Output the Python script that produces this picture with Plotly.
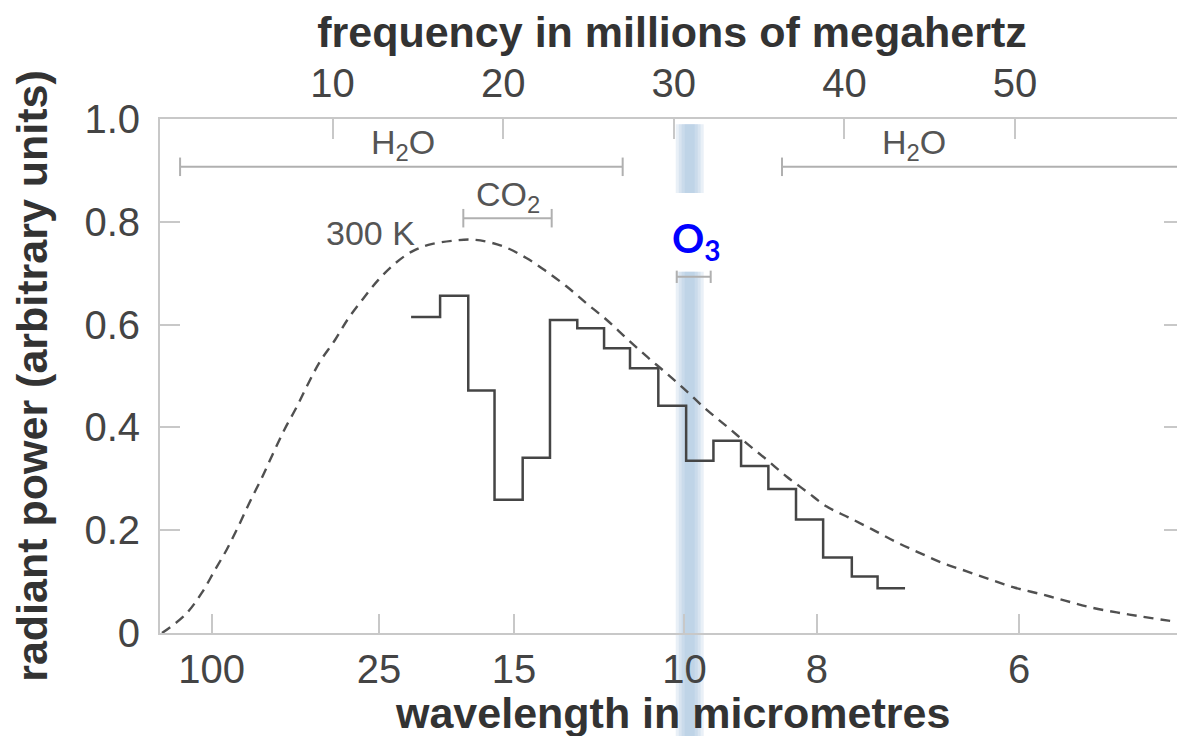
import plotly.graph_objects as go

# ---------------- data ----------------
freq_ticks = [10, 20, 30, 40, 50]                      # top axis, millions of MHz (THz)
wavelength_labels = ["100", "25", "15", "10", "8", "6"]  # bottom axis, micrometres
wavelength_tick_freq = [2.91, 12.72, 20.63, 30.62, 38.38, 50.23]
y_ticks = [0, 0.2, 0.4, 0.6, 0.8, 1.0]
y_tick_labels = ["0", "0.2", "0.4", "0.6", "0.8", "1.0"]

# 300 K blackbody curve (dashed)
curve_freq = [0.0, 1.35, 2.33, 3.11, 3.79, 4.47, 5.16, 5.84, 6.52, 7.21, 7.90,
              8.58, 9.26, 10.14, 10.92, 11.80, 12.68, 13.66, 14.64, 15.61, 16.98,
              18.35, 20.01, 21.38, 22.55, 23.72, 24.89, 26.07, 27.24, 28.41, 29.58,
              30.76, 31.93, 33.10, 34.27, 35.45, 36.62, 37.79, 38.96, 40.23, 41.60,
              42.97, 44.33, 45.76, 47.17, 48.63, 50.00, 51.47, 52.93, 54.40, 55.96,
              57.43, 58.99, 59.44]
curve_power = [0.0, 0.035, 0.078, 0.123, 0.162, 0.207, 0.256, 0.301, 0.350,
               0.398, 0.440, 0.486, 0.528, 0.570, 0.612, 0.651, 0.687, 0.719, 0.742,
               0.755, 0.763, 0.765, 0.752, 0.729, 0.703, 0.674, 0.641, 0.609, 0.573,
               0.538, 0.505, 0.470, 0.434, 0.402, 0.369, 0.337, 0.304, 0.275, 0.246,
               0.225, 0.202, 0.178, 0.157, 0.136, 0.120, 0.103, 0.088, 0.076, 0.063,
               0.050, 0.040, 0.032, 0.024, 0.022]

# measured spectrum (histogram steps)
step_edges = [14.60, 16.30, 17.95, 19.49, 21.14, 22.74, 24.34, 25.91, 27.43, 29.09,
              30.72, 32.32, 33.94, 35.54, 37.16, 38.75, 40.43, 41.94, 43.55]
step_power = [0.615, 0.656, 0.472, 0.259, 0.341, 0.609, 0.593, 0.554, 0.515, 0.442,
              0.335, 0.374, 0.325, 0.280, 0.221, 0.147, 0.110, 0.087]

# absorption bands
band_names = ["H<sub>2</sub>O", "CO<sub>2</sub>", "O3", "H<sub>2</sub>O"]
band_start = [1.06, 17.66, 30.17, 36.34]
band_end = [27.00, 22.84, 32.16, 62.0]
band_level = [0.907, 0.807, 0.693, 0.907]
band_label_freq = [14.13, 20.30, None, 44.05]
band_label_level = [0.951, 0.850, None, 0.951]
band_right_cap = [True, True, True, False]

ozone_center = 30.93

# ---------------- figure ----------------
AX = "#c8c8c8"
TXT = "#444444"
TITLE = "#333333"
FONT = "Liberation Sans, Arial, sans-serif"

fig = go.Figure()

# absorption range bars
for i in range(len(band_names)):
    s, e, l = band_start[i], band_end[i], band_level[i]
    c = 0.012 if band_names[i] == "O3" else 0.018
    xs = [s, s, None, s, e]
    ys = [l - c, l + c, None, l, l]
    if band_right_cap[i]:
        xs += [None, e, e]
        ys += [None, l - c, l + c]
    fig.add_trace(go.Scatter(x=xs, y=ys, mode="lines", line=dict(color="#b0b0b0", width=2),
                             hoverinfo="skip", showlegend=False))
    if band_label_freq[i] is not None:
        fig.add_annotation(x=band_label_freq[i], y=band_label_level[i], text=band_names[i],
                           showarrow=False, xanchor="center", yanchor="middle",
                           font=dict(family=FONT, size=34, color="#555555"))

# measured steps
fig.add_trace(go.Scatter(x=step_edges, y=step_power + [step_power[-1]], mode="lines",
                         line=dict(color="#454545", width=2.5, shape="hv"),
                         hoverinfo="skip", showlegend=False))

# blackbody curve on top frequency axis
fig.add_trace(go.Scatter(x=curve_freq, y=curve_power, mode="lines", xaxis="x2",
                         line=dict(color="#505050", width=2.4, dash="10px,7px", shape="spline"),
                         hoverinfo="skip", showlegend=False))

fig.add_annotation(x=14.93, y=0.778, text="300 K", showarrow=False, xanchor="right",
                   yanchor="middle", font=dict(family=FONT, size=34, color="#555555"))

# ozone window band (blurred look from stacked translucent strips)
for hw in [0.82, 0.64, 0.47, 0.29]:
    for (y0, y1) in [(0.856, 0.99), (-0.25, 0.703)]:
        fig.add_shape(type="rect", xref="x", yref="paper",
                      x0=ozone_center - hw, x1=ozone_center + hw, y0=y0, y1=y1,
                      fillcolor="rgba(157,187,217,0.22)", line=dict(width=0), layer="below")

fig.add_annotation(x=29.8, y=0.764, text="<b>O<sub>3</sub></b>", showarrow=False,
                   xanchor="left", yanchor="middle",
                   font=dict(family="Lato, Open Sans, sans-serif", size=40, color="#0000ff"))

# bottom axis title
fig.add_annotation(xref="paper", yref="paper", x=0.5, y=-0.156, text="<b>wavelength in micrometres</b>",
                   showarrow=False, xanchor="center", yanchor="middle",
                   font=dict(size=43, color=TITLE, family=FONT))

xrange = [-0.117, 59.9]
fig.update_layout(
    width=1185, height=736,
    margin=dict(l=152, r=9, t=111, b=111),
    paper_bgcolor="white", plot_bgcolor="rgba(0,0,0,0)",
    font=dict(family=FONT, color=TXT),
    xaxis=dict(range=xrange, tickvals=wavelength_tick_freq, ticktext=wavelength_labels,
               ticks="inside", ticklen=19, tickwidth=2, tickcolor=AX,
               showline=True, linecolor=AX, linewidth=2, mirror=True, automargin=False,
               showgrid=False, zeroline=False, ticklabelstandoff=0,
               tickfont=dict(size=40, color=TXT, family=FONT)),
    xaxis2=dict(range=xrange, overlaying="x", side="top", tickvals=freq_ticks,
                ticks="inside", ticklen=20, tickwidth=2, tickcolor=AX,
                showline=True, linecolor=AX, linewidth=2, automargin=False,
                showgrid=False, zeroline=False, ticklabelstandoff=4,
                tickfont=dict(size=40, color=TXT, family=FONT),
                title=dict(text="<b>frequency in millions of megahertz</b>", standoff=7,
                           font=dict(size=43, color=TITLE, family=FONT))),
    yaxis=dict(range=[0, 1.0], tickvals=y_ticks, ticktext=y_tick_labels,
               ticks="inside", ticklen=20, tickwidth=2, tickcolor=AX,
               showline=True, linecolor=AX, linewidth=2, mirror="ticks", automargin=False,
               showgrid=False, zeroline=False, ticklabelstandoff=10,
               tickfont=dict(size=40, color=TXT, family=FONT),
               title=dict(text="<b>radiant power (arbitrary units)</b>", standoff=24,
                          font=dict(size=43, color=TITLE, family=FONT))),
)

fig.write_html("out.html")
